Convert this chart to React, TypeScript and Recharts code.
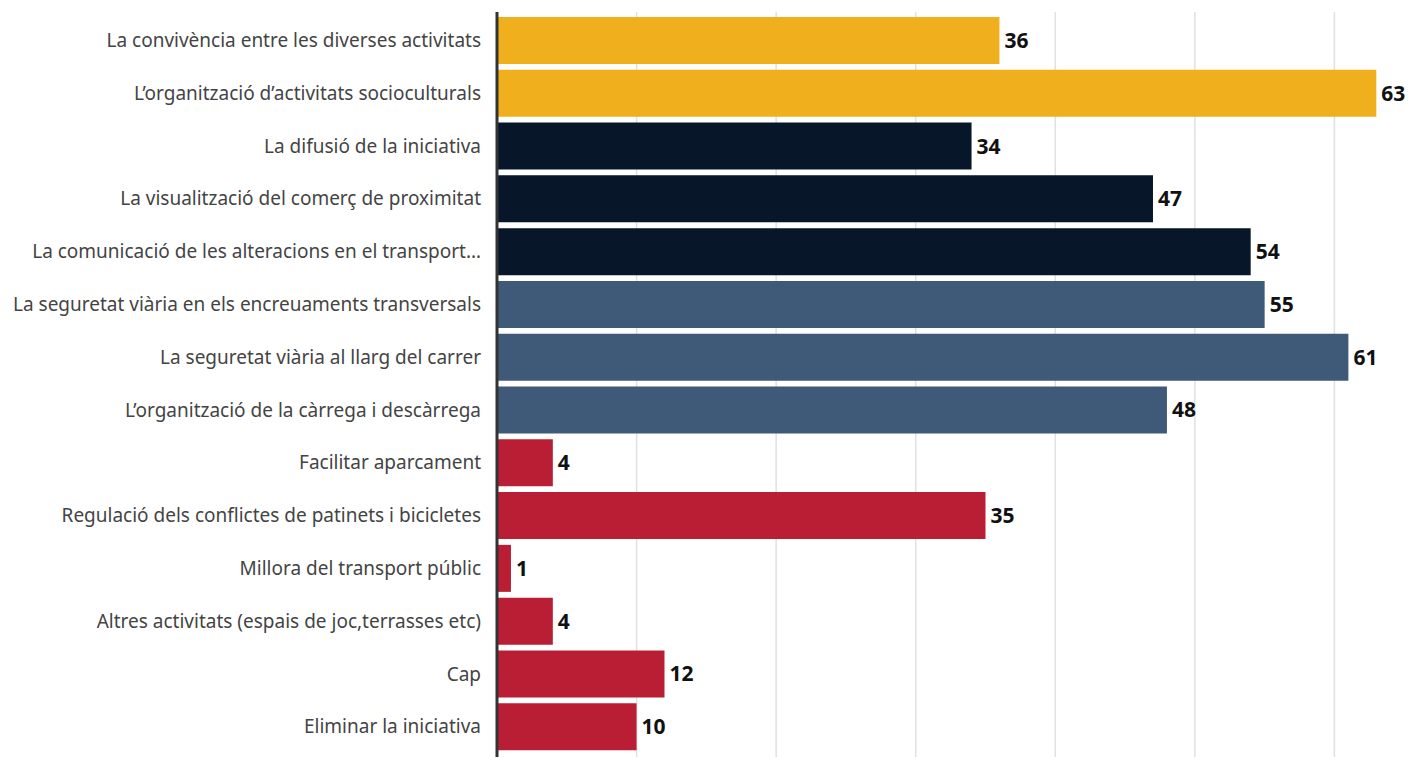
import { BarChart, Bar, XAxis, YAxis, CartesianGrid, Cell, LabelList } from "recharts";

const categories = [
  "La convivència entre les diverses activitats",
  "L’organització d’activitats socioculturals",
  "La difusió de la iniciativa",
  "La visualització del comerç de proximitat",
  "La comunicació de les alteracions en el transport…",
  "La seguretat viària en els encreuaments transversals",
  "La seguretat viària al llarg del carrer",
  "L’organització de la càrrega i descàrrega",
  "Facilitar aparcament",
  "Regulació dels conflictes de patinets i bicicletes",
  "Millora del transport públic",
  "Altres activitats (espais de joc,terrasses etc)",
  "Cap",
  "Eliminar la iniciativa",
];

const values = [36, 63, 34, 47, 54, 55, 61, 48, 4, 35, 1, 4, 12, 10];

// group of each category (decides the bar colour)
const groups = ["a", "a", "b", "b", "b", "c", "c", "c", "d", "d", "d", "d", "d", "d"];

const xTicks = [0, 10, 20, 30, 40, 50, 60];

const groupColors: Record<string, string> = {
  a: "#f0b01e",
  b: "#071629",
  c: "#3f5a78",
  d: "#ba1e34",
};

const data = categories.map((name, i) => ({ name, value: values[i], group: groups[i] }));

const font = "'Noto Sans', sans-serif";

// x axis has no visible labels, only gridlines
const EmptyTick = () => <g />;

const App = () => {
  return (
    <div style={{ position: "absolute", left: 0, top: 0, width: 1408, height: 758, background: "#fff" }}>
      <BarChart
        width={1408}
        height={758}
        data={data}
        layout="vertical"
        margin={{ top: 12, right: -66, bottom: 0, left: 0 }}
        barCategoryGap={3}
      >
        <CartesianGrid horizontal={false} stroke="#e0e0e0" strokeWidth={1.5} />
        <XAxis
          type="number"
          domain={[0, 70]}
          ticks={xTicks}
          height={1}
          tick={EmptyTick}
          axisLine={false}
          tickLine={false}
        />
        <YAxis
          type="category"
          dataKey="name"
          width={497}
          padding={{ top: 2, bottom: 4 }}
          axisLine={{ stroke: "#333", strokeWidth: 3 }}
          tickLine={false}
          tickSize={8}
          tickMargin={8}
          interval={0}
          tick={{ fontSize: 19, fill: "#444", fontFamily: font }}
        />
        <Bar dataKey="value" isAnimationActive={false}>
          {data.map((d, i) => (
            <Cell key={i} fill={groupColors[d.group]} />
          ))}
          <LabelList
            dataKey="value"
            position="right"
            offset={5}
            style={{ fontSize: 21, fontWeight: 700, fill: "#111", fontFamily: font }}
          />
        </Bar>
      </BarChart>
    </div>
  );
};

export default App;
